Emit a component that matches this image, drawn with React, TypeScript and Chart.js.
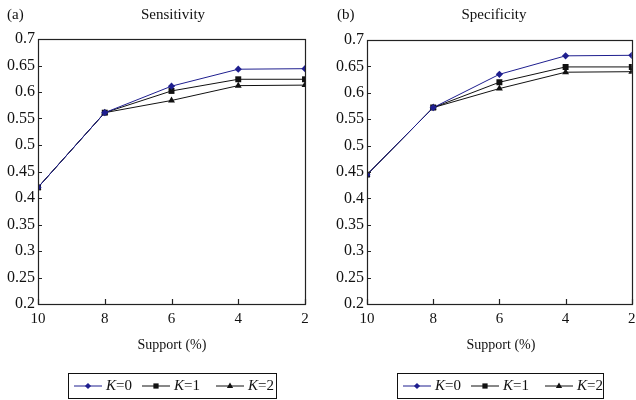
import React, { useEffect, useRef } from "react";
import { Chart, registerables } from "chart.js";
Chart.register(...registerables);

const supports = [10, 8, 6, 4, 2];
const kValues = ["0", "1", "2"];
const sensK0 = [0.42, 0.561, 0.611, 0.643, 0.644];
const sensK1 = [0.42, 0.561, 0.602, 0.624, 0.624];
const sensK2 = [0.42, 0.561, 0.584, 0.612, 0.613];
const specK0 = [0.445, 0.572, 0.635, 0.67, 0.671];
const specK1 = [0.445, 0.572, 0.62, 0.649, 0.649];
const specK2 = [0.445, 0.572, 0.608, 0.639, 0.64];
const yMin = 0.2;
const yMax = 0.7;
const yStep = 0.05;
const xStep = 2;
const axisTitle = "Support (%)";

const FONT = "'Liberation Serif', 'Times New Roman', serif";
const NAVY = "#1f1f8f";
const BLACK = "#111111";
const seriesColors = [NAVY, BLACK, BLACK];
const seriesPoints = ["rectRot", "rect", "triangle"];
const seriesRadius = [3.6, 4.2, 4];

type PanelCfg = {
  panel: string;
  title: string;
  titleX: number;
  axisTitleX: number;
  legendX: number;
  legendW: number;
  yWidth: number;
  padTop: number;
  padRight: number;
  data: number[][];
};

function drawMarker(ctx: CanvasRenderingContext2D, style: string, x: number, y: number, r: number, color: string) {
  ctx.save();
  ctx.fillStyle = color;
  ctx.beginPath();
  if (style === "rectRot") {
    ctx.moveTo(x, y - r);
    ctx.lineTo(x + r, y);
    ctx.lineTo(x, y + r);
    ctx.lineTo(x - r, y);
    ctx.closePath();
  } else if (style === "rect") {
    const s = r * Math.SQRT1_2;
    ctx.rect(x - s, y - s, 2 * s, 2 * s);
  } else {
    ctx.moveTo(x, y - r);
    ctx.lineTo(x + r * 0.9, y + r * 0.6);
    ctx.lineTo(x - r * 0.9, y + r * 0.6);
    ctx.closePath();
  }
  ctx.fill();
  ctx.restore();
}

function makeDecor(cfg: PanelCfg) {
  return {
    id: "decor" + cfg.panel.replace(/[^a-z]/g, ""),
    afterDraw(chart: any) {
      const ctx: CanvasRenderingContext2D = chart.ctx;
      const a = chart.chartArea;
      ctx.save();
      // frame
      ctx.strokeStyle = "#222";
      ctx.lineWidth = 1.2;
      ctx.strokeRect(Math.round(a.left) + 0.5, Math.round(a.top) + 0.5, Math.round(a.right - a.left), Math.round(a.bottom - a.top));
      // inward ticks
      ctx.beginPath();
      const ys = chart.scales.y;
      ys.ticks.forEach((t: any) => {
        const p = Math.round(ys.getPixelForValue(t.value)) + 0.5;
        ctx.moveTo(a.left, p);
        ctx.lineTo(a.left + 4, p);
      });
      const xs = chart.scales.x;
      xs.ticks.forEach((t: any) => {
        const p = Math.round(xs.getPixelForValue(t.value)) + 0.5;
        ctx.moveTo(p, a.bottom);
        ctx.lineTo(p, a.bottom - 5);
      });
      ctx.stroke();
      // titles
      ctx.fillStyle = "#111";
      ctx.textBaseline = "middle";
      ctx.font = `15px ${FONT}`;
      ctx.textAlign = "left";
      ctx.fillText(cfg.panel, cfg.panel === "(a)" ? 7 : 19, 15);
      ctx.textAlign = "center";
      ctx.fillText(cfg.title, cfg.titleX, 15);
      ctx.font = `14px ${FONT}`;
      ctx.fillText(axisTitle, cfg.axisTitleX, 345);
      // legend
      const top = 373;
      const h = 25;
      ctx.strokeStyle = "#111";
      ctx.lineWidth = 1;
      ctx.strokeRect(cfg.legendX + 0.5, top + 0.5, cfg.legendW, h);
      const offs = [6, 74, 148];
      const cy = top + h / 2 + 0.5;
      kValues.forEach((k, i) => {
        const x0 = cfg.legendX + offs[i];
        ctx.strokeStyle = seriesColors[i];
        ctx.lineWidth = 1;
        ctx.beginPath();
        ctx.moveTo(x0, cy);
        ctx.lineTo(x0 + 28, cy);
        ctx.stroke();
        drawMarker(ctx, seriesPoints[i], x0 + 14, cy, seriesRadius[i] - 0.5, seriesColors[i]);
        ctx.fillStyle = "#111";
        ctx.textAlign = "left";
        ctx.font = `italic 15px ${FONT}`;
        const tx = x0 + 32;
        ctx.fillText("K", tx, cy);
        const kw = ctx.measureText("K").width;
        ctx.font = `15px ${FONT}`;
        ctx.fillText("=" + k, tx + kw, cy);
      });
      ctx.restore();
    },
  };
}

function Panel({ cfg }: { cfg: PanelCfg }) {
  const ref = useRef<HTMLCanvasElement>(null);
  useEffect(() => {
    if (!ref.current) return;
    const chart = new Chart(ref.current, {
      type: "line",
      data: {
        datasets: kValues.map((k, i) => ({
          label: "K=" + k,
          data: supports.map((s, j) => ({ x: s, y: cfg.data[i][j] })),
          borderColor: seriesColors[i],
          backgroundColor: seriesColors[i],
          borderWidth: 1,
          pointStyle: seriesPoints[i] as any,
          pointRadius: seriesRadius[i],
          pointBorderWidth: 0,
          tension: 0,
          fill: false,
        })),
      },
      options: {
        responsive: false,
        animation: false,
        layout: { padding: { top: cfg.padTop, right: cfg.padRight, left: 0, bottom: 0 } },
        plugins: { legend: { display: false }, tooltip: { enabled: false }, title: { display: false } },
        scales: {
          x: {
            type: "linear",
            reverse: true,
            min: 2,
            max: 10,
            offset: false,
            grid: { display: false, drawTicks: false },
            border: { display: false },
            ticks: { stepSize: xStep, padding: 6, color: "#111", font: { family: FONT, size: 15 } },
            afterFit: (s: any) => {
              s.height = 96;
              s.paddingLeft = 0;
              s.paddingRight = 0;
            },
          },
          y: {
            min: yMin,
            max: yMax,
            grid: { display: false, drawTicks: false },
            border: { display: false },
            ticks: {
              stepSize: yStep,
              padding: 3,
              color: "#111",
              font: { family: FONT, size: 16 },
              callback: (v: any) => String(+(+v).toFixed(2)),
            },
            afterFit: (s: any) => {
              s.width = cfg.yWidth;
              s.paddingTop = 0;
              s.paddingBottom = 0;
            },
          },
        },
      } as any,
      plugins: [makeDecor(cfg)],
    });
    return () => chart.destroy();
  }, [cfg]);
  return <canvas ref={ref} width={318} height={400} style={{ display: "block", width: 318, height: 400 }} />;
}

const leftCfg: PanelCfg = {
  panel: "(a)",
  title: "Sensitivity",
  titleX: 173,
  axisTitleX: 172,
  legendX: 68,
  legendW: 208,
  yWidth: 38,
  padTop: 39,
  padRight: 13,
  data: [sensK0, sensK1, sensK2],
};
const rightCfg: PanelCfg = {
  panel: "(b)",
  title: "Specificity",
  titleX: 176,
  axisTitleX: 183,
  legendX: 79,
  legendW: 206,
  yWidth: 49,
  padTop: 40,
  padRight: 1,
  data: [specK0, specK1, specK2],
};

export default function App() {
  return (
    <div style={{ position: "fixed", left: 0, top: 0, width: 636, height: 400, display: "flex", background: "#fff" }}>
      <Panel cfg={leftCfg} />
      <Panel cfg={rightCfg} />
    </div>
  );
}
